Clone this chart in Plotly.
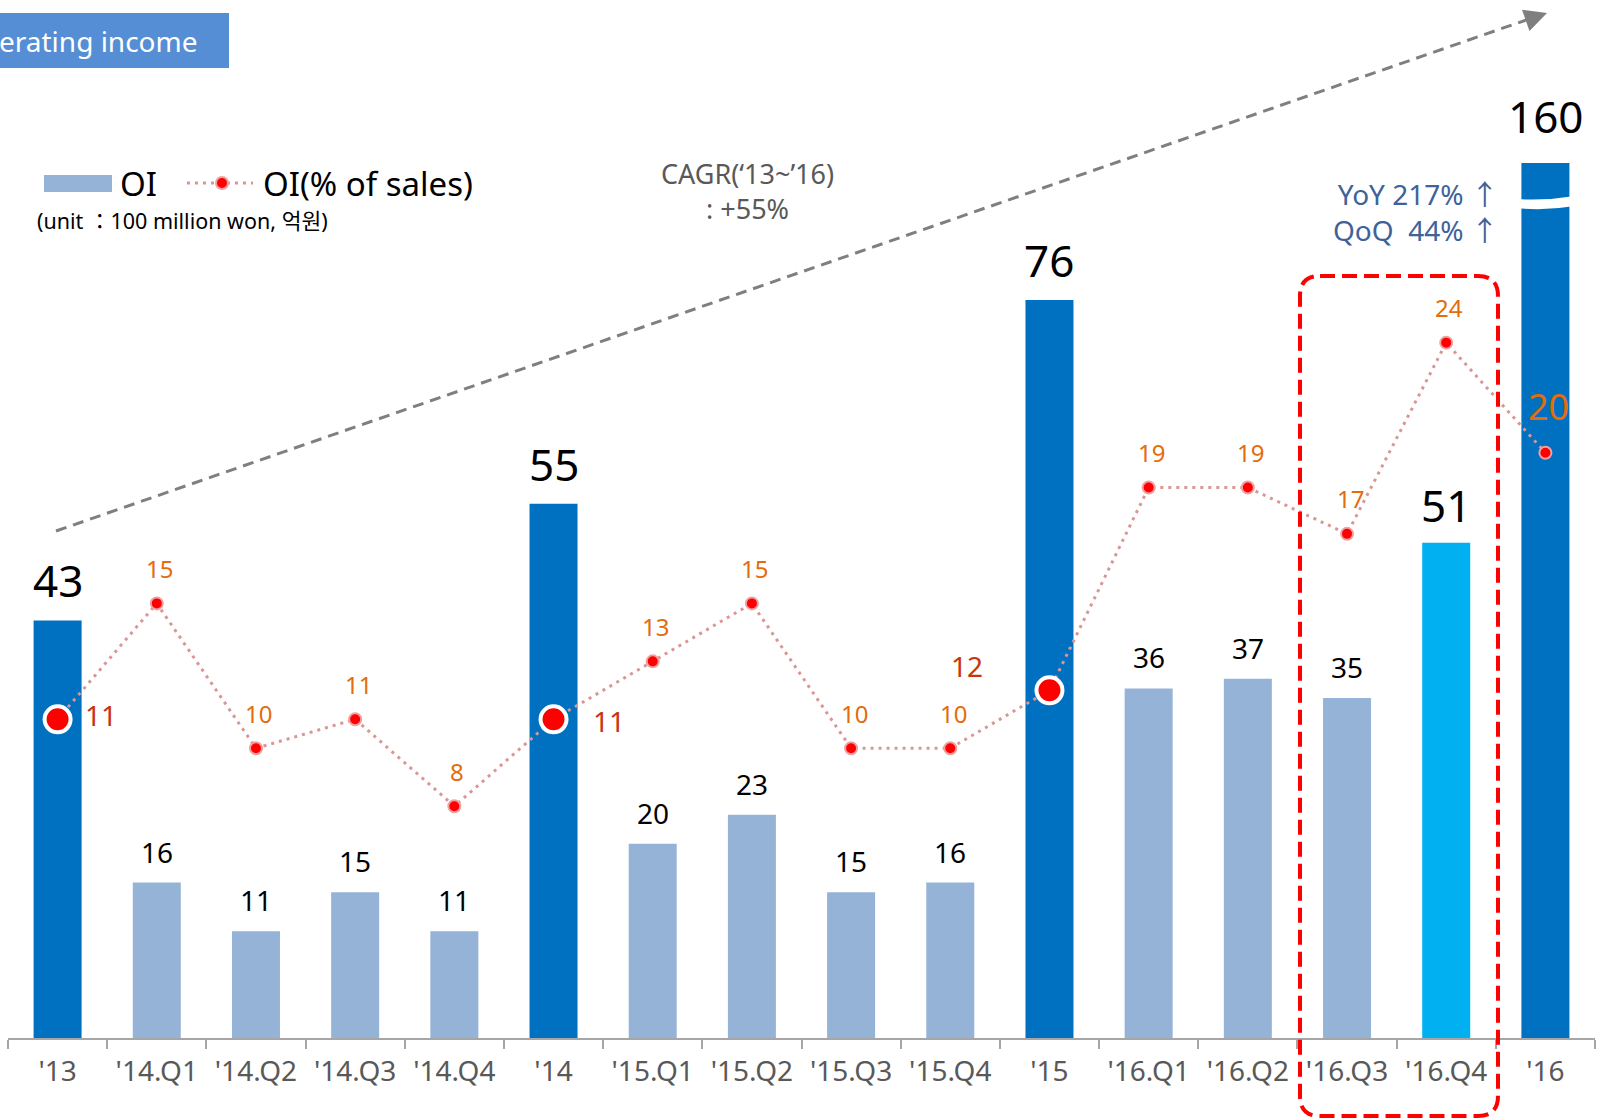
import plotly.graph_objects as go

# ---------------- data ----------------
categories = ["'13", "'14.Q1", "'14.Q2", "'14.Q3", "'14.Q4", "'14",
              "'15.Q1", "'15.Q2", "'15.Q3", "'15.Q4", "'15",
              "'16.Q1", "'16.Q2", "'16.Q3", "'16.Q4", "'16"]
oi_values = [43, 16, 11, 15, 11, 55, 20, 23, 15, 16, 76, 36, 37, 35, 51, 160]
oi_margin = [11, 15, 10, 11, 8, 11, 13, 15, 10, 10, 12, 19, 19, 17.4, 24, 20.2]
oi_margin_labels = ["11", "15", "10", "11", "8", "11", "13", "15", "10", "10",
                    "12", "19", "19", "17", "24", "20"]
period_type = ["year", "quarter", "quarter", "quarter", "quarter", "year",
               "quarter", "quarter", "quarter", "quarter", "year",
               "quarter", "quarter", "quarter", "highlight", "year"]

# ---------------- geometry helpers ----------------
W, H = 1599, 1119
L, R, T, B = 8, 1595, 163, 1038
PW, PH = R - L, B - T


def fx(p):
    return (p - L) / PW


def fy(p):
    return (B - p) / PH


Y_MAX = 90.1
Y2_MAX = 30.2

FONT = "Noto Sans, Noto Sans CJK KR, sans-serif"
BAR_COLORS = {"year": "#0070C0", "quarter": "#95B3D7", "highlight": "#00B0F0"}
ORANGE = "#E46C0A"
DARKRED = "#C8350F"
LINE_PINK = "#DA9694"

fig = go.Figure()

fig.add_trace(go.Bar(
    x=categories, y=oi_values,
    marker=dict(color=[BAR_COLORS[k] for k in period_type], line=dict(width=0)),
    showlegend=False, hoverinfo="skip",
))

big_marker = ["'13", "'14", "'15"]
fig.add_trace(go.Scatter(
    x=categories, y=oi_margin, yaxis="y2", mode="lines+markers",
    line=dict(color=LINE_PINK, width=3, dash="3px,5px"),
    marker=dict(
        color="#FF0000", opacity=1,
        size=[26 if c in big_marker else 12 for c in categories],
        line=dict(color=["#FFFFFF" if c in big_marker else "#F0A0A0" for c in categories],
                  width=[4 if c in big_marker else 2 for c in categories]),
    ),
    cliponaxis=False, showlegend=False, hoverinfo="skip",
))

annotations = []

# bar value labels
for c, v, k in zip(categories, oi_values, period_type):
    big = k in ("year", "highlight")
    clipped = v > Y_MAX
    if clipped:
        ys = 47
    elif k == "highlight":
        ys = 38
    elif big:
        ys = 40
    else:
        ys = 31
    annotations.append(dict(
        x=c, y=min(v, Y_MAX), xref="x", yref="y", text=str(v), showarrow=False,
        xanchor="center", yanchor="middle", yshift=ys, xshift=1 if clipped else 0,
        font=dict(family=FONT, size=44 if big else 28, color="#000000"),
    ))

# line value labels
label_style = {
    "'13": dict(xshift=43, yshift=4, size=28, color=DARKRED),
    "'14": dict(xshift=55, yshift=-2, size=28, color=DARKRED),
    "'15": dict(xshift=-82, yshift=24, size=28, color=DARKRED),
    "'16": dict(xshift=3, yshift=46, size=36, color=ORANGE),
}
for c, v, t in zip(categories, oi_margin, oi_margin_labels):
    st = label_style.get(c, dict(xshift=3, yshift=35, size=24, color=ORANGE))
    annotations.append(dict(
        x=c, y=v, xref="x", yref="y2", text=t, showarrow=False,
        xanchor="center", yanchor="middle", xshift=st["xshift"], yshift=st["yshift"],
        font=dict(family=FONT, size=st["size"], color=st["color"]),
    ))

# title box text (the reference shows it cut at the page edge)
annotations.append(dict(
    x=fx(-3), y=fy(41), xref="paper", yref="paper", text="erating income",
    showarrow=False, xanchor="left", yanchor="middle",
    font=dict(family=FONT, size=28, color="#FFFFFF"),
))

# legend texts
annotations.append(dict(
    x=fx(118), y=fy(183), xref="paper", yref="paper", text="OI", showarrow=False,
    xanchor="left", yanchor="middle", font=dict(family=FONT, size=33, color="#000000"),
))
annotations.append(dict(
    x=fx(261), y=fy(183), xref="paper", yref="paper", text="OI(% of sales)", showarrow=False,
    xanchor="left", yanchor="middle", font=dict(family=FONT, size=33, color="#000000"),
))
annotations.append(dict(
    x=fx(35), y=fy(220), xref="paper", yref="paper",
    text="(unit \uff1a100 million won, 억원)", showarrow=False,
    xanchor="left", yanchor="middle", font=dict(family=FONT, size=21.5, color="#000000"),
))

# CAGR text
annotations.append(dict(
    x=fx(747), y=fy(191), xref="paper", yref="paper",
    text="CAGR(\u201813~\u201916)<br>: +55%",
    showarrow=False, xanchor="center", yanchor="middle", align="center",
    font=dict(family=FONT, size=27, color="#595959"),
))

# YoY / QoQ
annotations.append(dict(
    x=fx(1501), y=fy(212), xref="paper", yref="paper",
    text="YoY 217% \u2191<br>QoQ\u00a0 44% \u2191",
    showarrow=False, xanchor="right", yanchor="middle", align="right",
    font=dict(family=FONT, size=28, color="#40629A"),
))

# arrow head of the trend arrow
annotations.append(dict(
    x=fx(1547), y=fy(13), xref="paper", yref="paper", text="", showarrow=True,
    ax=-20, ay=7, axref="pixel", ayref="pixel",
    arrowhead=2, arrowsize=1.5, arrowwidth=3, arrowcolor="#7F7F7F", standoff=0,
))

shapes = []
# title box
shapes.append(dict(type="rect", xref="paper", yref="paper",
                   x0=fx(-10), x1=fx(229), y0=fy(68), y1=fy(13),
                   fillcolor="#558ED5", line=dict(width=0), layer="above"))
# legend swatch
shapes.append(dict(type="rect", xref="paper", yref="paper",
                   x0=fx(44), x1=fx(112), y0=fy(192), y1=fy(175),
                   fillcolor="#95B3D7", line=dict(width=0)))
shapes.append(dict(type="line", xref="paper", yref="paper",
                   x0=fx(187), x1=fx(253), y0=fy(183), y1=fy(183),
                   line=dict(color=LINE_PINK, width=3, dash="3px,5px")))
shapes.append(dict(type="circle", xref="paper", yref="paper",
                   x0=fx(216), x1=fx(228), y0=fy(189), y1=fy(177),
                   fillcolor="#FF0000", line=dict(color="#F0A0A0", width=2)))
# trend arrow (dashed)
shapes.append(dict(type="line", xref="paper", yref="paper",
                   x0=fx(56), y0=fy(531), x1=fx(1532), y1=fy(18),
                   line=dict(color="#7F7F7F", width=3, dash="11px,7px")))
# break mark on the '16 bar
bx0, bxm, bx1 = 1515, 1545, 1575
shapes.append(dict(type="path", xref="paper", yref="paper",
                   path=(f"M {fx(bx0)},{fy(199)} Q {fx(bxm)},{fy(201)} {fx(bx1)},{fy(196)} "
                         f"L {fx(bx1)},{fy(206)} Q {fx(bxm)},{fy(211)} {fx(bx0)},{fy(208)} Z"),
                   fillcolor="#FFFFFF", line=dict(width=0)))
# red dashed rounded rectangle
x0, x1, y0, y1, r = 1300, 1498, 276, 1116, 20
pts = [
    ("M", (x0 + r, y0)), ("L", (x1 - r, y0)), ("Q", (x1, y0), (x1, y0 + r)),
    ("L", (x1, y1 - r)), ("Q", (x1, y1), (x1 - r, y1)),
    ("L", (x0 + r, y1)), ("Q", (x0, y1), (x0, y1 - r)),
    ("L", (x0, y0 + r)), ("Q", (x0, y0), (x0 + r, y0)),
]
path = ""
for p in pts:
    coords = " ".join(f"{fx(a)},{fy(b)}" for a, b in p[1:])
    path += f"{p[0]} {coords} "
path += "Z"
shapes.append(dict(type="path", xref="paper", yref="paper", path=path,
                   line=dict(color="#FF0000", width=4, dash="15px,7px"),
                   fillcolor="rgba(0,0,0,0)"))

fig.update_layout(
    width=W, height=H,
    margin=dict(l=L, r=W - R, t=T, b=H - B, pad=0),
    paper_bgcolor="#FFFFFF", plot_bgcolor="#FFFFFF",
    bargap=0.516,
    font=dict(family=FONT),
    xaxis=dict(
        type="category", range=[-0.5, len(categories) - 0.5], autorange=False,
        showgrid=False, zeroline=False,
        showline=True, linecolor="#A6A6A6", linewidth=1.5,
        ticks="outside", tickson="boundaries", ticklen=9, tickcolor="#A6A6A6", tickwidth=1.5,
        tickfont=dict(family=FONT, size=28, color="#595959"),
        ticklabelstandoff=8,
    ),
    yaxis=dict(range=[0, Y_MAX], visible=False, showgrid=False, zeroline=False),
    yaxis2=dict(range=[0, Y2_MAX], overlaying="y", visible=False, showgrid=False, zeroline=False),
    annotations=annotations,
    shapes=shapes,
)

fig.write_html("out.html", config={"displayModeBar": False},
               post_script="document.body.style.margin='0';")
